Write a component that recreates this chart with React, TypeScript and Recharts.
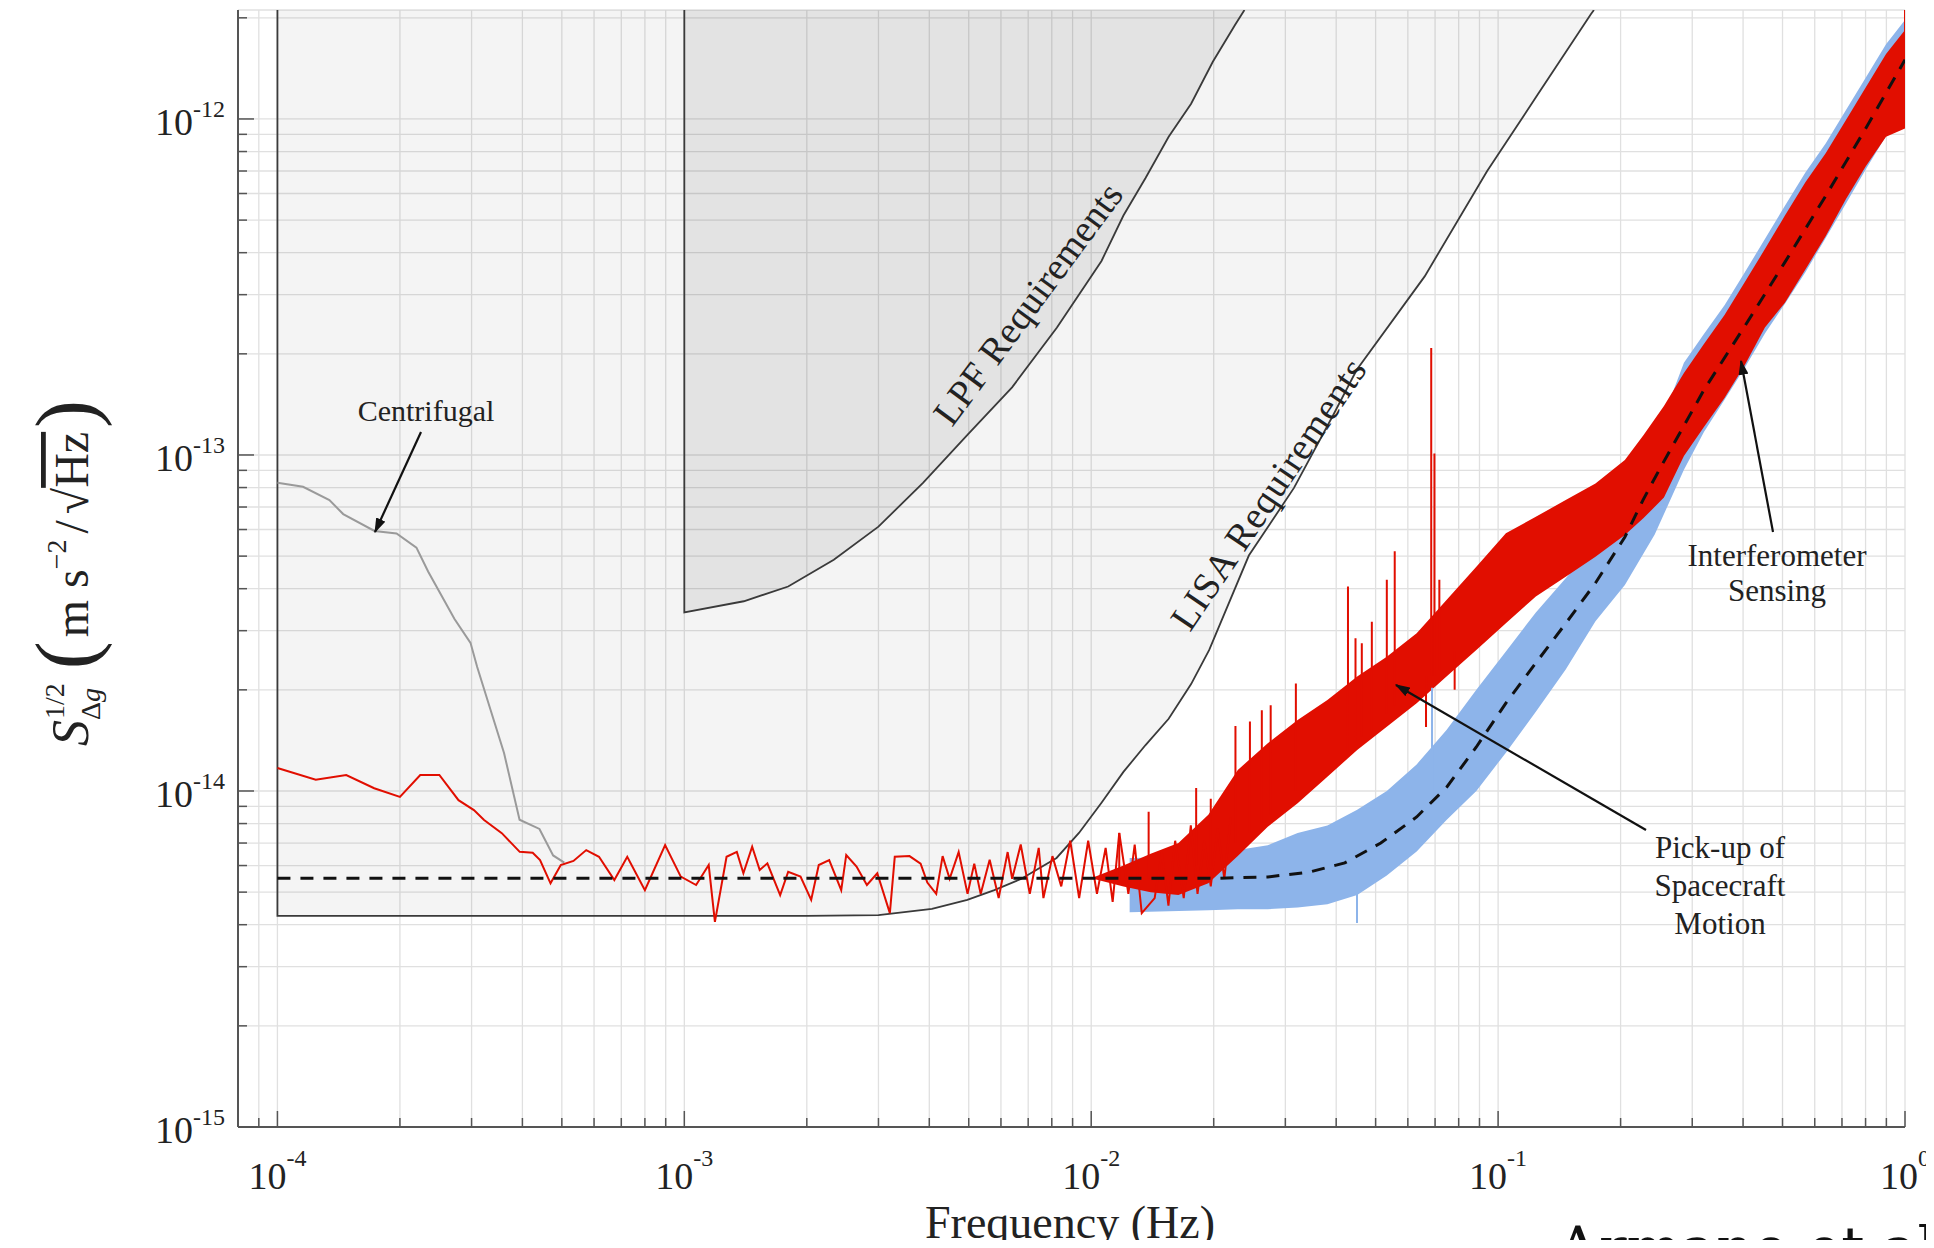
import React from 'react';
import { ComposedChart, Line, Area, XAxis, YAxis, CartesianGrid } from 'recharts';

type Pt = { f: number; s: number | null };
type Band = { f: number; lo: number; hi: number };

// ---------- axes ----------
const X_MIN = 8e-5;
const X_MAX = 1;
const Y_MIN = 1e-15;
const Y_MAX = 2.11e-12;

const xDecades = [-4, -3, -2, -1, 0];
const xTickExps = ['-4', '-3', '-2', '-1', '0'];
const yDecades = [-15, -14, -13, -12];
const yTickExps = ['-15', '-14', '-13', '-12'];
const minorSteps = [2, 3, 4, 5, 6, 7, 8, 9];

// ---------- data (frequency Hz, ASD) ----------
const lisaCurve: [number, number][] = [
  [1e-4, 4.25e-15], [2.0e-3, 4.25e-15], [3.0e-3, 4.27e-15], [4.06e-3, 4.46e-15],
  [4.96e-3, 4.74e-15], [5.78e-3, 5.07e-15], [6.72e-3, 5.47e-15], [8.22e-3, 6.32e-15],
  [9.33e-3, 7.5e-15], [1.06e-2, 9.23e-15], [1.2e-2, 1.14e-14], [1.36e-2, 1.37e-14],
  [1.55e-2, 1.64e-14], [1.76e-2, 2.08e-14], [1.95e-2, 2.63e-14], [2.44e-2, 5.02e-14],
  [3.15e-2, 7.98e-14], [3.94e-2, 1.32e-13], [4.49e-2, 1.79e-13], [6.6e-2, 3.4e-13],
  [9.4e-2, 7.0e-13], [0.125, 1.18e-12], [0.169, 2.05e-12], [0.172, 2.11e-12],
];

const lpfCurve: [number, number][] = [
  [1e-3, 3.4e-14], [1.4e-3, 3.67e-14], [1.8e-3, 4.06e-14], [2.33e-3, 4.88e-14],
  [3.0e-3, 6.12e-14], [3.86e-3, 8.26e-14], [4.97e-3, 1.15e-13], [6.39e-3, 1.59e-13],
  [8.23e-3, 2.39e-13], [1.06e-2, 3.78e-13], [1.2e-2, 5.16e-13], [1.36e-2, 6.67e-13],
  [1.55e-2, 8.85e-13], [1.76e-2, 1.11e-12], [1.99e-2, 1.48e-12], [2.26e-2, 1.91e-12],
  [2.38e-2, 2.11e-12],
];

const centrifugal: [number, number][] = [
  [1e-4, 8.27e-14], [1.156e-4, 8.04e-14], [1.342e-4, 7.34e-14], [1.451e-4, 6.67e-14],
  [1.732e-4, 5.94e-14], [1.962e-4, 5.84e-14], [2.196e-4, 5.3e-14], [2.346e-4, 4.5e-14],
  [2.53e-4, 3.82e-14], [2.724e-4, 3.25e-14], [2.982e-4, 2.76e-14], [3.097e-4, 2.34e-14],
  [3.341e-4, 1.742e-14], [3.605e-4, 1.297e-14], [3.936e-4, 8.21e-15], [4.405e-4, 7.71e-15],
  [4.76e-4, 6.43e-15], [5.07e-4, 6.12e-15],
];

const redTrace: [number, number][] = [
  [1.0e-4, 1.17e-14], [1.242e-4, 1.08e-14], [1.476e-4, 1.116e-14], [1.729e-4, 1.019e-14],
  [2.0e-4, 9.6e-15], [2.244e-4, 1.116e-14], [2.5e-4, 1.116e-14], [2.786e-4, 9.39e-15],
  [3.04e-4, 8.77e-15], [3.22e-4, 8.2e-15], [3.56e-4, 7.49e-15], [3.94e-4, 6.59e-15],
  [4.24e-4, 6.55e-15], [4.42e-4, 6.23e-15], [4.69e-4, 5.31e-15], [4.97e-4, 6.02e-15],
  [5.34e-4, 6.19e-15], [5.74e-4, 6.67e-15], [6.17e-4, 6.37e-15], [6.73e-4, 5.43e-15],
  [7.24e-4, 6.37e-15], [8.0e-4, 5.07e-15], [8.97e-4, 6.9e-15], [9.8e-4, 5.56e-15],
  [1.069e-3, 5.25e-15], [1.148e-3, 6.02e-15], [1.189e-3, 4.08e-15], [1.27e-3, 6.37e-15],
  [1.346e-3, 6.59e-15], [1.397e-3, 5.69e-15], [1.468e-3, 6.83e-15], [1.532e-3, 5.82e-15],
  [1.6e-3, 6.09e-15], [1.72e-3, 4.9e-15], [1.8e-3, 5.75e-15], [1.93e-3, 5.56e-15],
  [2.05e-3, 4.74e-15], [2.14e-3, 6.02e-15], [2.27e-3, 6.23e-15], [2.43e-3, 5.07e-15],
  [2.5e-3, 6.45e-15], [2.65e-3, 5.96e-15], [2.81e-3, 5.25e-15], [2.98e-3, 5.69e-15],
  [3.2e-3, 4.33e-15], [3.29e-3, 6.37e-15], [3.576e-3, 6.4e-15], [3.808e-3, 6.08e-15],
  [3.956e-3, 5.34e-15], [4.16e-3, 4.94e-15], [4.313e-3, 6.4e-15], [4.488e-3, 5.48e-15],
  [4.723e-3, 6.58e-15], [4.967e-3, 4.94e-15], [5.159e-3, 6.08e-15], [5.349e-3, 4.94e-15],
  [5.629e-3, 6.24e-15], [5.923e-3, 4.8e-15], [6.232e-3, 6.58e-15], [6.393e-3, 5.48e-15],
  [6.71e-3, 6.93e-15], [7.063e-3, 4.94e-15], [7.43e-3, 6.77e-15], [7.63e-3, 4.8e-15],
  [8.03e-3, 6.4e-15], [8.44e-3, 5.2e-15], [8.88e-3, 7.11e-15], [9.34e-3, 4.8e-15],
  [9.83e-3, 7.11e-15], [1.033e-2, 4.94e-15], [1.085e-2, 6.77e-15], [1.129e-2, 4.68e-15],
  [1.172e-2, 7.5e-15], [1.234e-2, 4.94e-15], [1.279e-2, 6.93e-15], [1.331e-2, 4.33e-15],
  [1.432e-2, 4.8e-15], [1.491e-2, 6.58e-15], [1.548e-2, 4.56e-15], [1.608e-2, 7.11e-15],
  [1.688e-2, 4.8e-15], [1.757e-2, 7.9e-15], [1.825e-2, 4.94e-15], [1.896e-2, 7.11e-15],
  [1.967e-2, 5.2e-15], [2.045e-2, 7.71e-15], [2.124e-2, 5.48e-15], [2.203e-2, 8.32e-15],
];

// [f, lower edge, upper edge] of the dense noise bands
const redBand: [number, number, number][] = [
  [1.0e-2, 5.5e-15, 5.5e-15], [1.2e-2, 5.2e-15, 6.0e-15], [1.4e-2, 5.0e-15, 6.5e-15],
  [1.638e-2, 4.9e-15, 7.0e-15],
  [1.94e-2, 5.31e-15, 8.5e-15], [2.292e-2, 6.4e-15, 1.155e-14], [2.716e-2, 7.83e-15, 1.387e-14],
  [3.216e-2, 9.19e-15, 1.627e-14], [3.806e-2, 1.103e-14, 1.866e-14], [4.505e-2, 1.324e-14, 2.19e-14],
  [5.326e-2, 1.553e-14, 2.51e-14], [6.307e-2, 1.824e-14, 2.946e-14], [7.468e-2, 2.19e-14, 3.7e-14],
  [8.841e-2, 2.627e-14, 4.65e-14], [0.1045, 3.156e-14, 5.85e-14], [0.1238, 3.79e-14, 6.55e-14],
  [0.1466, 4.34e-14, 7.34e-14], [0.1735, 4.98e-14, 8.23e-14], [0.2049, 5.78e-14, 9.66e-14],
  [0.2278, 6.49e-14, 1.147e-13], [0.2556, 7.47e-14, 1.399e-13], [0.2862, 9.93e-14, 1.754e-13],
  [0.3205, 1.211e-13, 2.14e-13], [0.3601, 1.478e-13, 2.61e-13], [0.404, 1.853e-13, 3.27e-13],
  [0.4526, 2.395e-13, 4.1e-13], [0.5069, 2.84e-13, 5.16e-13], [0.5691, 3.565e-13, 6.48e-13],
  [0.6383, 4.48e-13, 7.9e-13], [0.7161, 5.78e-13, 9.93e-13], [0.8019, 7.25e-13, 1.245e-12],
  [0.8982, 8.85e-13, 1.561e-12], [1.0, 9.37e-13, 1.84e-12],
];

const blueBand: [number, number, number][] = [
  [1.243e-2, 4.36e-15, 6.32e-15], [1.94e-2, 4.42e-15, 6.37e-15], [2.292e-2, 4.45e-15, 6.67e-15],
  [2.716e-2, 4.45e-15, 6.9e-15], [3.216e-2, 4.5e-15, 7.5e-15], [3.806e-2, 4.6e-15, 7.9e-15],
  [4.505e-2, 4.9e-15, 8.8e-15], [5.326e-2, 5.6e-15, 1.0e-14], [6.307e-2, 6.6e-15, 1.2e-14],
  [7.468e-2, 8.2e-15, 1.52e-14], [8.841e-2, 1.0e-14, 2.0e-14], [0.1045, 1.3e-14, 2.6e-14],
  [0.1238, 1.72e-14, 3.4e-14], [0.1466, 2.3e-14, 4.3e-14], [0.1735, 3.2e-14, 5.4e-14],
  [0.2049, 4.1e-14, 6.8e-14], [0.2426, 5.8e-14, 1.108e-13], [0.2862, 9.03e-14, 1.88e-13],
  [0.3205, 1.17e-13, 2.29e-13], [0.3601, 1.46e-13, 2.79e-13], [0.404, 1.82e-13, 3.5e-13],
  [0.4526, 2.3e-13, 4.39e-13], [0.5069, 2.82e-13, 5.52e-13], [0.5691, 3.5e-13, 6.93e-13],
  [0.6383, 4.42e-13, 8.45e-13], [0.7161, 5.6e-13, 1.063e-12], [0.8019, 7.1e-13, 1.33e-12],
  [0.8982, 8.9e-13, 1.67e-12], [1.0, 1.06e-12, 1.97e-12],
];

// [f, base, tip] of isolated spectral lines
const redSpikes: [number, number, number][] = [
  [0.01172, 5.5e-15, 7.5e-15], [0.01384, 5.5e-15, 8.67e-15], [0.01811, 6e-15, 1.02e-14],
  [0.01967, 6e-15, 9.49e-15], [0.02262, 7e-15, 1.56e-14], [0.02455, 7.5e-15, 1.61e-14],
  [0.02626, 8e-15, 1.74e-14], [0.02761, 8.5e-15, 1.8e-14], [0.03184, 1.0e-14, 2.09e-14],
  [0.04276, 1.3e-14, 4.06e-14], [0.04462, 1.4e-14, 2.85e-14], [0.04624, 1.45e-14, 2.75e-14],
  [0.04894, 1.5e-14, 3.19e-14], [0.05327, 1.7e-14, 4.25e-14], [0.05571, 1.8e-14, 5.17e-14],
  [0.06849, 2.2e-14, 2.08e-13], [0.06974, 2.2e-14, 1.01e-13], [0.07171, 2.3e-14, 4.25e-14],
  [0.0665, 2.2e-14, 1.55e-14], [0.0782, 2.6e-14, 2.0e-14],
  [1.0, 1.2e-12, 2.11e-12],
];
const blueSpikes: [number, number, number][] = [
  [0.0688, 9e-15, 2.03e-14], [0.045, 7e-15, 4.05e-15],
];

const modelFit: [number, number][] = [
  [1e-4, 5.5e-15], [2.07e-2, 5.5e-15], [2.716e-2, 5.55e-15], [3.446e-2, 5.74e-15],
  [4.199e-2, 6.11e-15], [5.148e-2, 7.0e-15], [6.307e-2, 8.37e-15], [7.482e-2, 1.028e-14],
  [8.841e-2, 1.352e-14], [0.1045, 1.827e-14], [0.1238, 2.404e-14], [0.1468, 3.16e-14],
  [0.1735, 4.16e-14], [0.2049, 5.7e-14], [0.227, 7.34e-14], [0.2511, 9.21e-14],
  [0.3205, 1.561e-13], [0.404, 2.42e-13], [0.5069, 3.75e-13], [0.6383, 5.9e-13],
  [0.8019, 9.4e-13], [1.0, 1.5e-12],
];

// ---------- tables for the library ----------
const toPts = (a: [number, number][]): Pt[] => a.map(([f, s]) => ({ f, s }));
const toBand = (a: [number, number, number][]): Band[] => a.map(([f, lo, hi]) => ({ f, lo, hi }));
const toSpikes = (a: [number, number, number][]): Pt[] =>
  a.flatMap(([f, b, t]) => [{ f, s: b }, { f, s: t }, { f, s: b }, { f, s: null }]);

const lisaRegion: Band[] = lisaCurve.map(([f, s]) => ({ f, lo: s, hi: Y_MAX }));
const lpfRegion: Band[] = lpfCurve.map(([f, s]) => ({ f, lo: s, hi: Y_MAX }));
const lisaEdge: Pt[] = [{ f: lisaCurve[0][0], s: Y_MAX }, ...toPts(lisaCurve)];
const lpfEdge: Pt[] = [{ f: lpfCurve[0][0], s: Y_MAX }, ...toPts(lpfCurve)];

const pow10 = (d: number) => Math.pow(10, d);
const xTicks: number[] = [9e-5];
xDecades.forEach((d) => {
  xTicks.push(pow10(d));
  if (d < 0) minorSteps.forEach((m) => xTicks.push(m * pow10(d)));
});
const yTicks: number[] = [];
yDecades.forEach((d) => {
  yTicks.push(pow10(d));
  minorSteps.forEach((m) => { if (m * pow10(d) <= Y_MAX) yTicks.push(m * pow10(d)); });
});

const isMajor = (v: number) => Math.abs(Math.log10(v) - Math.round(Math.log10(v))) < 1e-6;
const xExp = (v: number) => xTickExps[xDecades.indexOf(Math.round(Math.log10(v)))];
const yExp = (v: number) => yTickExps[yDecades.indexOf(Math.round(Math.log10(v)))];

const FONT = "'Liberation Serif', 'Times New Roman', serif";
const MAJ = 16;
const MIN = 9;
const TICK_C = '#555';

const BottomTick = (p: any) => {
  const v = p.payload.value;
  const M = isMajor(v);
  return (
    <g>
      <line x1={p.x} x2={p.x} y1={p.y} y2={p.y - (M ? MAJ : MIN)} stroke={TICK_C} strokeWidth={1.5} />
      {M && (
        <text x={p.x} y={p.y + 62} textAnchor="middle" fontFamily={FONT} fontSize={38} fill="#222">
          10<tspan dy={-23} fontSize={24}>{xExp(v)}</tspan>
        </text>
      )}
    </g>
  );
};
const TopTick = (p: any) => {
  const M = isMajor(p.payload.value);
  return <line x1={p.x} x2={p.x} y1={p.y} y2={p.y + (M ? MAJ : MIN)} stroke={TICK_C} strokeWidth={1.5} />;
};
const LeftTick = (p: any) => {
  const v = p.payload.value;
  const M = isMajor(v);
  return (
    <g>
      <line x1={p.x} x2={p.x + (M ? MAJ : MIN)} y1={p.y} y2={p.y} stroke={TICK_C} strokeWidth={1.5} />
      {M && (
        <text x={p.x - 13} y={p.y + 16} textAnchor="end" fontFamily={FONT} fontSize={38} fill="#222">
          10<tspan dy={-18} fontSize={24}>{yExp(v)}</tspan>
        </text>
      )}
    </g>
  );
};
const RightTick = (p: any) => {
  const M = isMajor(p.payload.value);
  return <line x1={p.x} x2={p.x - (M ? MAJ : MIN)} y1={p.y} y2={p.y} stroke={TICK_C} strokeWidth={1.5} />;
};

const RED = '#e10e00';
const BLUE = '#8db4ea';
const common = { isAnimationActive: false, dot: false, activeDot: false, type: 'linear' as const };
const rangeKey = (d: Band) => [d.lo, d.hi];

export default function App() {
  return (
    <div style={{ position: 'relative', width: 1926, height: 1240, marginBottom: -8 }}>
      <ComposedChart width={1926} height={1240} margin={{ top: 2, right: 29, bottom: 61, left: 130 }}>
        <CartesianGrid stroke="#e0e0e0" strokeWidth={1.3} />
        <XAxis dataKey="f" type="number" scale="log" domain={[X_MIN, X_MAX]} allowDataOverflow
          ticks={xTicks} interval={0} tick={(p: any) => <BottomTick {...p} />} tickSize={0} tickMargin={0}
          tickLine={false} axisLine={{ stroke: '#555', strokeWidth: 2 }} height={60} />
        <XAxis xAxisId="top" orientation="top" dataKey="f" type="number" scale="log" domain={[X_MIN, X_MAX]}
          allowDataOverflow ticks={xTicks} interval={0} tick={(p: any) => <TopTick {...p} />} tickSize={0}
          tickMargin={0} tickLine={false} axisLine={{ stroke: '#d4d4d4', strokeWidth: 1.5 }} height={0} />
        <YAxis type="number" scale="log" domain={[Y_MIN, Y_MAX]} allowDataOverflow ticks={yTicks} interval={0}
          tick={(p: any) => <LeftTick {...p} />} tickSize={0} tickMargin={0} tickLine={false}
          axisLine={{ stroke: '#555', strokeWidth: 2 }} width={100} />
        <YAxis yAxisId="right" orientation="right" type="number" scale="log" domain={[Y_MIN, Y_MAX]}
          allowDataOverflow ticks={yTicks} interval={0} tick={(p: any) => <RightTick {...p} />} tickSize={0}
          tickMargin={0} tickLine={false} axisLine={{ stroke: '#555', strokeWidth: 2 }} width={0} />

        <Area {...common} data={lisaRegion} dataKey={rangeKey} stroke="none" fill="#000" fillOpacity={0.045} />
        <Area {...common} data={lpfRegion} dataKey={rangeKey} stroke="none" fill="#000" fillOpacity={0.065} />
        <Line {...common} data={lisaEdge} dataKey="s" stroke="#3a3a3a" strokeWidth={1.8} />
        <Line {...common} data={lpfEdge} dataKey="s" stroke="#3a3a3a" strokeWidth={1.8} />
        <Line {...common} data={toPts(centrifugal)} dataKey="s" stroke="#9a9a9a" strokeWidth={2} />

        <Area {...common} data={toBand(blueBand)} dataKey={rangeKey} stroke="none" fill={BLUE} fillOpacity={1} />
        <Line {...common} data={toSpikes(blueSpikes)} dataKey="s" stroke={BLUE} strokeWidth={2} />
        <Area {...common} data={toBand(redBand)} dataKey={rangeKey} stroke="none" fill={RED} fillOpacity={1} />
        <Line {...common} data={toPts(redTrace)} dataKey="s" stroke={RED} strokeWidth={2} />
        <Line {...common} data={toSpikes(redSpikes)} dataKey="s" stroke={RED} strokeWidth={2} />

        <Line {...common} data={toPts(modelFit)} dataKey="s" stroke="#111" strokeWidth={3} strokeDasharray="13 10" />
      </ComposedChart>

      <svg width={1926} height={1240} style={{ position: 'absolute', left: 0, top: 0, pointerEvents: 'none', overflow: 'hidden' }}>
        <defs>
          <marker id="ah" viewBox="0 0 12 8" refX="11" refY="4" markerWidth="15" markerHeight="10"
            markerUnits="userSpaceOnUse" orient="auto">
            <path d="M0,0 L12,4 L0,8 z" fill="#111" />
          </marker>
        </defs>

        <text transform="translate(80,565) rotate(-90)" textAnchor="middle" fontFamily={FONT} fontSize={48} fill="#222">
          <tspan fontStyle="italic" fontSize={52}>S</tspan>
          <tspan fontSize={28} dy={12}>Δ</tspan>
          <tspan fontSize={28} fontStyle="italic">g</tspan>
          <tspan fontSize={28} dx={-31} dy={-36}>1/2</tspan>
          <tspan fontSize={84} dx={14} dy={30}>(</tspan>
          <tspan dx={4} dy={-6}>m s</tspan>
          <tspan fontSize={28} dy={-22}>−2</tspan>
          <tspan dx={6} dy={22}>/</tspan>
          <tspan dx={6}>√</tspan>
          <tspan style={{ textDecoration: 'overline' }}>Hz</tspan>
          <tspan fontSize={84} dx={4} dy={6}>)</tspan>
        </text>

        <text x={1062} y={1230} textAnchor="middle" fontFamily={FONT} fontSize={46} fill="#222">Frequency (Hz)</text>
        <text x={1549} y={1260} fontFamily="'DejaVu Serif', serif" fontSize={58} fill="#111">Armano et al.</text>

        <text x={418} y={413} textAnchor="middle" fontFamily={FONT} fontSize={30} fill="#222">Centrifugal</text>
        <line x1={413} y1={424} x2={367} y2={524} stroke="#111" strokeWidth={2.2} markerEnd="url(#ah)" />

        <text transform="translate(944,420) rotate(-53.5)" fontFamily={FONT} fontSize={38} fill="#222"
          textLength={290} lengthAdjust="spacing">LPF Requirements</text>
        <text transform="translate(1182,625) rotate(-56)" fontFamily={FONT} fontSize={38} fill="#222"
          textLength={318} lengthAdjust="spacing">LISA Requirements</text>

        <text x={1769} y={558} textAnchor="middle" fontFamily={FONT} fontSize={31} fill="#222">Interferometer</text>
        <text x={1769} y={593} textAnchor="middle" fontFamily={FONT} fontSize={31} fill="#222">Sensing</text>
        <line x1={1765} y1={524} x2={1733} y2={353} stroke="#111" strokeWidth={2.2} markerEnd="url(#ah)" />

        <text x={1712} y={850} textAnchor="middle" fontFamily={FONT} fontSize={31} fill="#222">Pick-up of</text>
        <text x={1712} y={888} textAnchor="middle" fontFamily={FONT} fontSize={31} fill="#222">Spacecraft</text>
        <text x={1712} y={926} textAnchor="middle" fontFamily={FONT} fontSize={31} fill="#222">Motion</text>
        <line x1={1638} y1={822} x2={1388} y2={677} stroke="#111" strokeWidth={2.2} markerEnd="url(#ah)" />
      </svg>
    </div>
  );
}
